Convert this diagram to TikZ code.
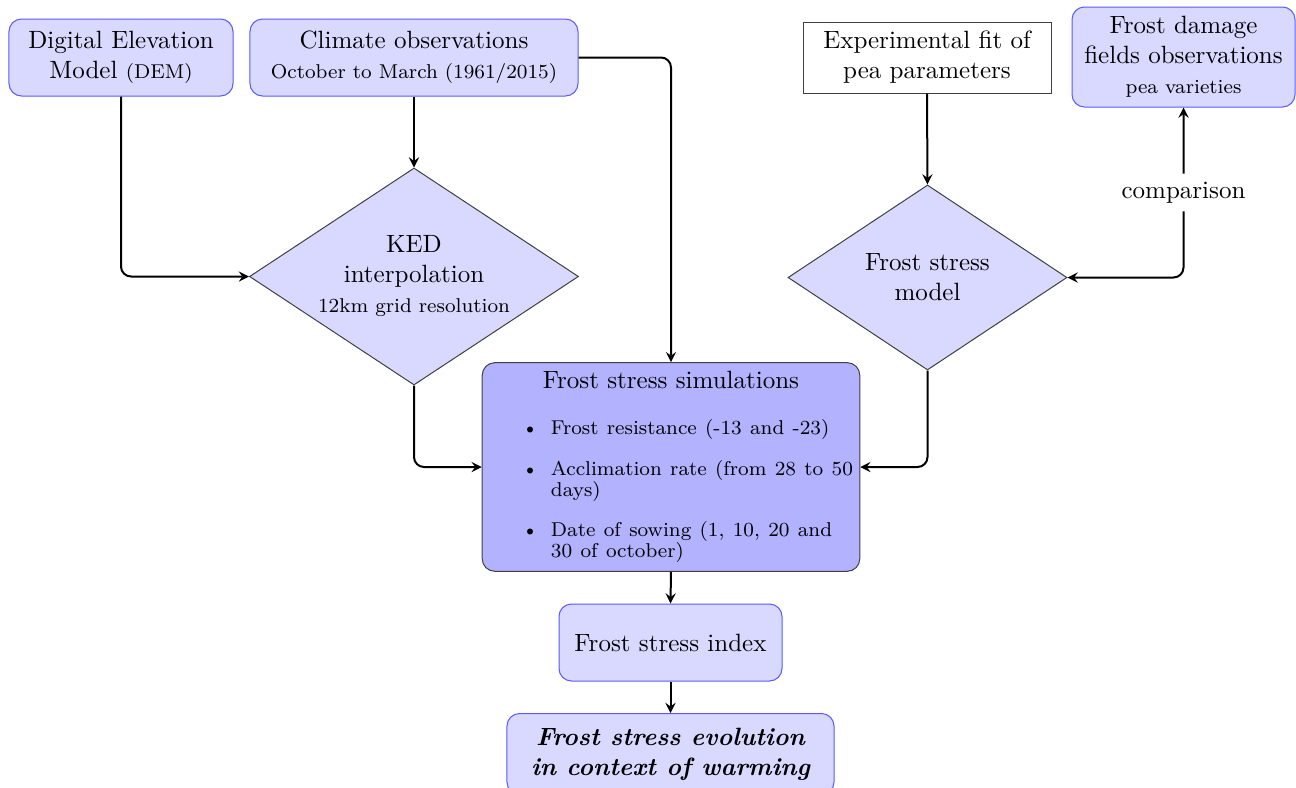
\documentclass[tikz,border=0pt]{standalone}
\usetikzlibrary{shapes.geometric}
\begin{document}
\begin{tikzpicture}[x=0.4pt,y=-0.4pt,>=stealth,
  inputbox/.style={draw=blue!65, fill=blue!15, rounded corners=5pt, align=center, inner sep=3pt},
  decision/.style={diamond, draw=black!75, fill=blue!15, align=center, inner sep=0pt, aspect=1.5},
  link/.style={->, thick, rounded corners=4pt}]
  \useasboundingbox (0,0) rectangle (1296,788);

  % inputs
  \node[inputbox, minimum width=89.6pt, minimum height=30.8pt] (dem) at (121,57.5) {Digital Elevation\\Model {\footnotesize (DEM)}};
  \node[inputbox, minimum width=131.2pt, minimum height=30.8pt] (climate) at (414,57.5) {Climate observations\\{\footnotesize October to March (1961/2015)}};
  \node[draw=black!75, fill=white, align=center, minimum width=99.2pt, minimum height=28.4pt] (fit) at (927,57.5) {Experimental fit of\\pea parameters};
  \node[inputbox, minimum width=89.2pt, minimum height=40pt] (damage) at (1183.5,57) {Frost damage\\fields observations\\{\footnotesize pea varieties}};

  % models
  \node[decision, minimum width=131.6pt, minimum height=86.8pt] (ked) at (414,276.5) {KED\\interpolation\\{\footnotesize 12km grid resolution}};
  \node[decision, minimum width=111.6pt, minimum height=74pt] (model) at (927.5,277.5) {Frost stress\\model};

  % simulations and results
  \node[draw=black!75, fill=blue!30, rounded corners=5pt, text width=146pt, inner xsep=2.5pt, inner ysep=3.5pt] (sim) at (671,467) {\centering Frost stress simulations\par
    \fontsize{8}{8.3}\selectfont\raggedright
    \begin{itemize}
      \item Frost resistance (-13 and -23)
      \item Acclimation rate (from 28 to 50 days)
      \item Date of sowing (1, 10, 20 and 30 of october)
    \end{itemize}\unskip};
  \node[inputbox, minimum width=89.2pt, minimum height=30.8pt] (index) at (670.5,642.5) {Frost stress index};
  \node[inputbox, minimum width=130.8pt, minimum height=32.4pt, anchor=north, font=\bfseries\itshape] (evolution) at (670.5,713) {Frost stress evolution\\in context of warming};

  % connectors
  \draw[link] (dem.south) |- (ked.west);
  \draw[link] (climate.south) -- (ked.north);
  \draw[link] (climate.east) -| (sim.north);
  \draw[link] (ked.south) |- (sim.west);
  \draw[link] (fit.south) -- (model.north);
  \draw[link] (model.south) |- (sim.east);
  \draw[link, <->] (model.east) -| node[pos=0.75, fill=white] (cmp) {comparison} (damage.south);
  \draw[link] (sim.south) -- (index.north);
  \draw[link] (index.south) -- (evolution.north);
\end{tikzpicture}
\end{document}
